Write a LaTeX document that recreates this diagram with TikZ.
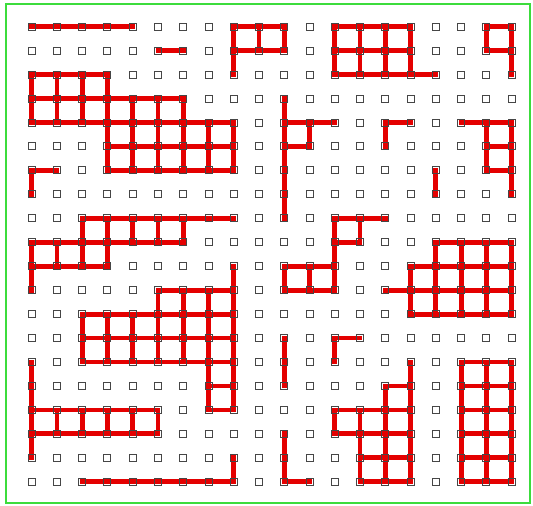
\documentclass[tikz,border=0pt]{standalone}
\pgfdeclarelayer{bg}
\pgfsetlayers{bg,main}
\definecolor{edgered}{RGB}{228,0,0}
\definecolor{framegreen}{RGB}{60,220,60}
\definecolor{sqgray}{RGB}{70,70,70}
\tikzset{
  sq/.style={draw=sqgray, line width=1pt, minimum size=7pt, inner sep=0pt, outer sep=0pt},
  edge/.style={draw=edgered, line width=4.8pt, line cap=rect, line join=miter},
  frame/.style={draw=framegreen, line width=2.2pt}
}
\begin{document}
\begin{tikzpicture}[x=1pt,y=1pt]
\useasboundingbox (0,0) rectangle (533,-506);
\draw[frame] (6,-4) rectangle (530,-503);
\foreach \c in {0,...,19}{
  \foreach \r in {0,...,19}{
    \node[sq] (p-\c-\r) at ({31.7+25.26*\c},{-(26.7+23.95*\r)}) {};
  }
}
\begin{pgfonlayer}{bg}
\foreach \r/\a/\b in {0/0/4, 0/8/10, 0/12/15, 0/18/19,
 1/5/6, 1/8/10, 1/12/15, 1/18/19,
 2/0/3, 2/12/16,
 3/0/6,
 4/0/8, 4/10/12, 4/14/15, 4/17/19,
 5/3/8, 5/10/11, 5/18/19,
 6/0/1, 6/3/8, 6/18/19,
 8/2/8, 8/12/14,
 9/0/6, 9/12/13, 9/16/19,
 10/0/3, 10/10/12, 10/15/19,
 11/5/8, 11/10/12, 11/14/19,
 12/2/8, 12/15/19,
 13/2/8, 13/12/13,
 14/2/8, 14/17/19,
 15/7/8, 15/14/15, 15/17/19,
 16/0/5, 16/7/8, 16/12/15, 16/17/19,
 17/0/5, 17/12/15, 17/17/19,
 18/13/15, 18/17/19,
 19/2/8, 19/10/11, 19/13/15, 19/17/19}{
  \draw[edge] (p-\a-\r.center) -- (p-\b-\r.center);
}
\foreach \c/\a/\b in {0/2/4, 0/6/7, 0/9/11, 0/14/18,
 1/2/4, 1/9/10, 1/16/17,
 2/2/4, 2/8/10, 2/12/14, 2/16/17,
 3/2/6, 3/8/10, 3/12/14, 3/16/17,
 4/3/6, 4/8/9, 4/12/14, 4/16/17,
 5/3/6, 5/8/9, 5/11/14, 5/16/17,
 6/3/6, 6/8/9, 6/11/14,
 7/4/6, 7/11/16,
 8/0/2, 8/4/6, 8/10/16, 8/18/19,
 9/0/1,
 10/0/1, 10/3/8, 10/10/11, 10/13/15, 10/17/19,
 11/4/5, 11/10/11,
 12/0/2, 12/8/11, 12/13/14, 12/16/17,
 13/0/2, 13/8/9, 13/16/19,
 14/0/2, 14/4/5, 14/15/19,
 15/0/2, 15/10/12, 15/14/19,
 16/6/7, 16/9/12,
 17/9/12, 17/14/19,
 18/0/1, 18/4/6, 18/9/12, 18/14/19,
 19/0/2, 19/4/7, 19/9/12, 19/14/19}{
  \draw[edge] (p-\c-\a.center) -- (p-\c-\b.center);
}
\end{pgfonlayer}
\end{tikzpicture}
\end{document}
